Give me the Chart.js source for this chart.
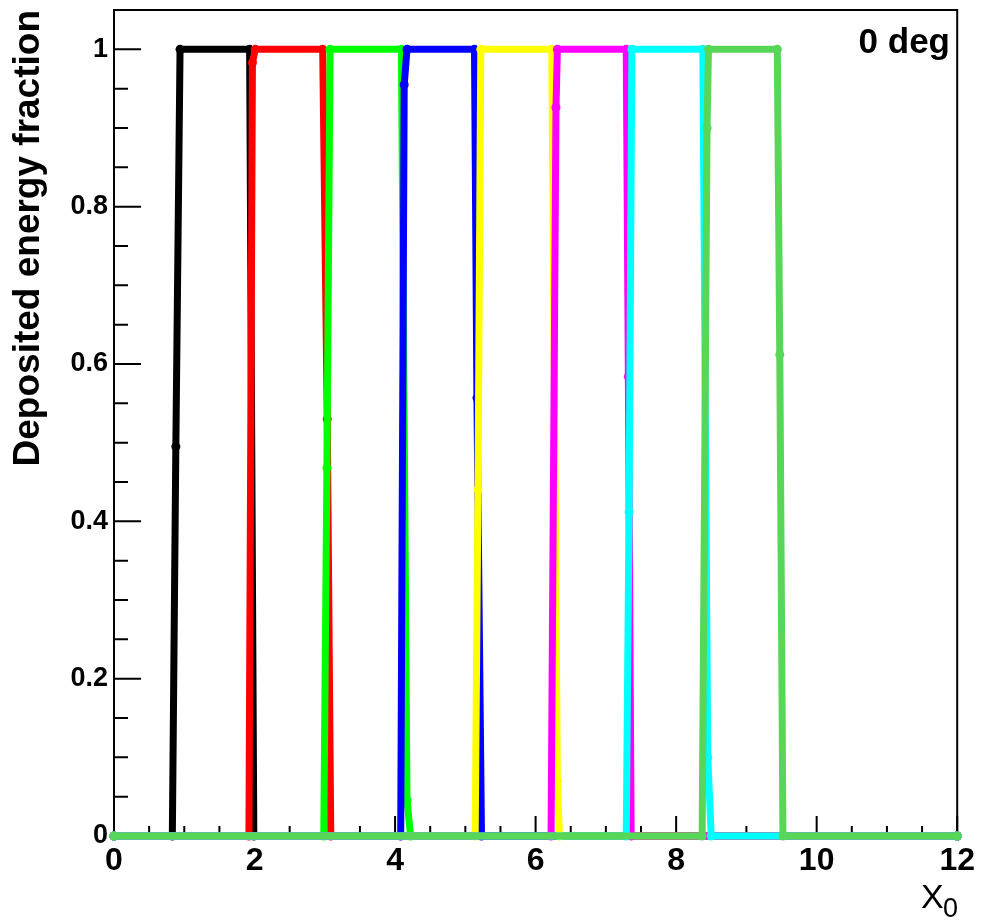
<!DOCTYPE html>
<html>
<head>
<meta charset="utf-8">
<title>Deposited energy fraction</title>
<script src="https://cdn.jsdelivr.net/npm/chart.js@4.4.0/dist/chart.umd.min.js"></script>
<style>
	html, body { margin: 0; padding: 0; background: #ffffff; }
	canvas { display: block; }
</style>
</head>
<body>
<canvas id="edep_chart" width="981" height="920"></canvas>
<script>
// layer profiles, 0 deg: fraction of energy deposited vs depth (X0)
const blackX   = [0, 0.83, 0.88, 0.94, 1.93, 1.99, 12];
const blackY   = [0, 0, 0.495, 1, 1, 0, 0];
const redX     = [0, 1.92, 1.97, 2.01, 2.97, 3.035, 3.085, 12];
const redY     = [0, 0, 0.983, 1, 1, 0.53, 0, 0];
const greenX   = [0, 2.985, 3.03, 3.075, 4.09, 4.17, 4.22, 12];
const greenY   = [0, 0, 0.468, 1, 1, 0.046, 0, 0];
const blueX    = [0, 4.08, 4.13, 4.17, 5.13, 5.165, 5.23, 12];
const blueY    = [0, 0, 0.955, 1, 1, 0.557, 0, 0];
const yellowX  = [0, 5.14, 5.18, 5.22, 6.23, 6.31, 6.34, 12];
const yellowY  = [0, 0, 0.44, 1, 1, 0.07, 0, 0];
const magentaX = [0, 6.22, 6.29, 6.31, 7.29, 7.32, 7.36, 12];
const magentaY = [0, 0, 0.926, 1, 1, 0.584, 0, 0];
const cyanX    = [0, 7.29, 7.33, 7.37, 8.38, 8.45, 8.5, 12];
const cyanY    = [0, 0, 0.412, 1, 1, 0.1, 0, 0];
const lgreenX  = [0, 8.37, 8.44, 8.46, 9.44, 9.475, 9.52, 12];
const lgreenY  = [0, 0, 0.9, 1, 1, 0.612, 0, 0];

const xMajor = [0, 2, 4, 6, 8, 10, 12];
const xTickLabels = ['0', '2', '4', '6', '8', '10', '12'];
const yMajor = [0, 0.2, 0.4, 0.6, 0.8, 1];
const yTickLabels = ['0', '0.2', '0.4', '0.6', '0.8', '1'];

const series = [
	{ x: blackX, y: blackY, color: '#000000' },
	{ x: redX, y: redY, color: '#ff0000' },
	{ x: greenX, y: greenY, color: '#00ff00' },
	{ x: blueX, y: blueY, color: '#0000ff' },
	{ x: yellowX, y: yellowY, color: '#ffff00' },
	{ x: magentaX, y: magentaY, color: '#ff00ff' },
	{ x: cyanX, y: cyanY, color: '#00ffff' },
	{ x: lgreenX, y: lgreenY, color: '#57d657' },
];

const majorIndex = (v, list) => list.findIndex(m => Math.abs(m - v) < 1e-6);

Chart.defaults.font.family = "'Liberation Sans', Arial, sans-serif";
Chart.defaults.color = '#000000';

// box, inward ticks and the in-frame texts
const frame = {
	id: 'frame',
	beforeDatasetsDraw(chart) {
		const { ctx, chartArea: a, scales } = chart;
		ctx.save();
		ctx.strokeStyle = '#000000';
		ctx.lineWidth = 2;
		ctx.strokeRect(a.left, a.top, a.right - a.left, a.bottom - a.top);
		ctx.beginPath();
		scales.x.ticks.forEach(t => {
			const px = scales.x.getPixelForValue(t.value);
			const len = majorIndex(t.value, xMajor) >= 0 ? 20 : 10;
			ctx.moveTo(px, a.bottom);
			ctx.lineTo(px, a.bottom - len);
		});
		scales.y.ticks.forEach(t => {
			const py = scales.y.getPixelForValue(t.value);
			const len = majorIndex(t.value, yMajor) >= 0 ? 27 : 14;
			ctx.moveTo(a.left, py);
			ctx.lineTo(a.left + len, py);
		});
		ctx.stroke();
		ctx.restore();
	},
	afterDraw(chart) {
		const { ctx } = chart;
		ctx.save();
		ctx.fillStyle = '#000000';
		ctx.textBaseline = 'alphabetic';
		ctx.font = "bold 35px 'Liberation Sans', Arial, sans-serif";
		ctx.textAlign = 'right';
		ctx.fillText('0 deg', 950, 53);
		ctx.textAlign = 'left';
		ctx.font = "34px 'Liberation Sans', Arial, sans-serif";
		ctx.fillText('X', 921, 908);
		ctx.font = "27px 'Liberation Sans', Arial, sans-serif";
		ctx.fillText('0', 943, 917);
		ctx.restore();
	}
};

const data = {
	datasets: series.map((s, i) => ({
		label: '',
		data: s.x.map((x, k) => ({ x: x, y: s.y[k] })),
		borderColor: s.color,
		backgroundColor: s.color,
		borderWidth: 7,
		borderJoinStyle: 'round',
		borderCapStyle: 'round',
		pointRadius: 4.5,
		pointBorderWidth: 0,
		pointBackgroundColor: s.color,
		tension: 0,
		clip: false,
		order: series.length - i
	}))
};

const config = {
	type: 'line',
	data: data,
	options: {
		responsive: false,
		animation: false,
		layout: {
			padding: { left: 0, top: 10, right: 21, bottom: 0 }
		},
		scales: {
			x: {
				type: 'linear',
				min: 0,
				max: 12,
				grid: { display: false, drawTicks: false },
				border: { display: false },
				ticks: {
					stepSize: 0.5,
					autoSkip: false,
					maxRotation: 0,
					padding: 6,
					color: '#000000',
					font: { size: 32, weight: 'bold' },
					callback: (v) => {
						const i = majorIndex(v, xMajor);
						return i >= 0 ? xTickLabels[i] : '';
					}
				},
				afterFit: (scale) => { scale.height = 84; }
			},
			y: {
				type: 'linear',
				min: 0,
				max: 1.05,
				grid: { display: false, drawTicks: false },
				border: { display: false },
				ticks: {
					stepSize: 0.05,
					autoSkip: false,
					padding: 6,
					color: '#000000',
					font: { size: 27, weight: 'bold' },
					callback: (v) => {
						const i = majorIndex(v, yMajor);
						return i >= 0 ? yTickLabels[i] : '';
					}
				},
				title: {
					display: true,
					text: 'Deposited energy fraction',
					align: 'end',
					color: '#000000',
					font: { size: 37, weight: 'bold', lineHeight: 1.2 },
					padding: { top: 7, bottom: 0 }
				},
				afterFit: (scale) => {
					scale.width = 114;
					scale.paddingTop = 0;
					scale.paddingBottom = 0;
				}
			}
		},
		plugins: {
			legend: { display: false },
			tooltip: { enabled: false }
		}
	},
	plugins: [frame]
};

var ctx = document.getElementById('edep_chart');
if (ctx != null) {
	const chart = new Chart(ctx, config);
}
</script>
</body>
</html>
